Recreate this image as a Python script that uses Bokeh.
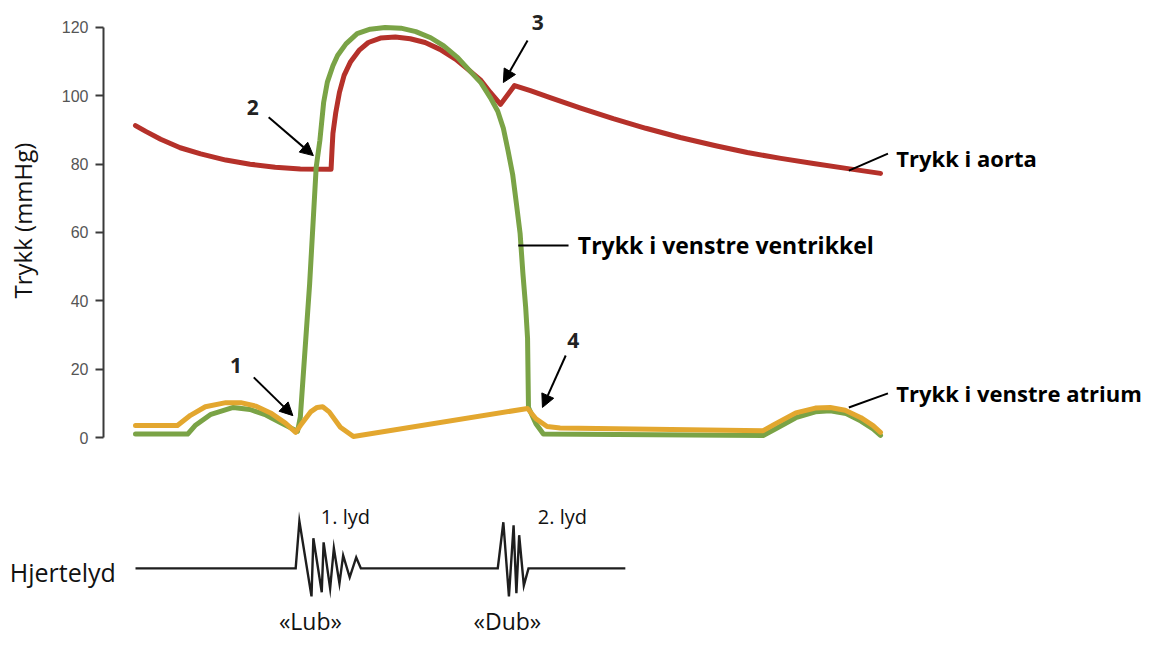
import math
from bokeh.plotting import figure
from bokeh.models import Range1d, Label, Arrow, NormalHead, FixedTicker
from bokeh.embed import file_html
from bokeh.resources import INLINE

# ---- data (time in s, pressure in mmHg) ----
aorta_t = [0.000, 0.011, 0.027, 0.048, 0.070, 0.097, 0.123, 0.150, 0.177, 0.210, 0.211,
           0.212, 0.215, 0.219, 0.224, 0.231, 0.240, 0.250, 0.263, 0.279, 0.295, 0.311,
           0.327, 0.344, 0.358, 0.371, 0.381, 0.392, 0.407, 0.424, 0.446, 0.478, 0.513,
           0.548, 0.585, 0.623, 0.657, 0.693, 0.728, 0.765, 0.800]
aorta_p = [91.3, 89.6, 87.3, 84.8, 83.0, 81.2, 80.0, 79.1, 78.6, 78.5, 84.0,
           89.0, 95.0, 101.0, 106.0, 110.0, 113.3, 115.6, 116.9, 117.2, 116.7, 115.6,
           113.6, 110.7, 107.5, 104.5, 101.0, 97.5, 103.0, 101.5, 99.4, 96.4, 93.3,
           90.5, 87.8, 85.4, 83.4, 81.7, 80.2, 78.7, 77.3]

vent_t = [0.000, 0.056, 0.064, 0.081, 0.105, 0.123, 0.140, 0.156, 0.174, 0.177, 0.187,
          0.194, 0.198, 0.202, 0.206, 0.212, 0.217, 0.226, 0.238, 0.252, 0.268, 0.285,
          0.301, 0.317, 0.331, 0.346, 0.360, 0.371, 0.381, 0.389, 0.395, 0.400, 0.405,
          0.409, 0.413, 0.416, 0.419, 0.421, 0.422, 0.430, 0.438, 0.674, 0.687, 0.709,
          0.730, 0.746, 0.763, 0.779, 0.792, 0.800]
vent_p = [1.0, 1.0, 3.5, 6.8, 8.8, 8.2, 6.6, 4.3, 1.8, 6.0, 45.0,
          79.0, 87.0, 98.0, 104.0, 108.8, 111.8, 115.2, 118.2, 119.5, 120.0, 119.8,
          118.8, 117.0, 114.6, 111.2, 107.0, 103.8, 99.5, 95.5, 90.5, 84.0, 77.0,
          68.5, 59.7, 48.0, 38.0, 29.0, 8.8, 4.0, 1.0, 0.6, 2.5, 5.8,
          7.5, 7.8, 7.0, 4.8, 2.5, 0.6]

atr_t = [0.000, 0.045, 0.059, 0.075, 0.097, 0.113, 0.129, 0.145, 0.161, 0.172, 0.177,
         0.188, 0.195, 0.201, 0.208, 0.220, 0.234, 0.421, 0.430, 0.442, 0.456, 0.674,
         0.687, 0.709, 0.730, 0.746, 0.762, 0.779, 0.792, 0.800]
atr_p = [3.5, 3.5, 6.5, 9.0, 10.2, 10.2, 9.2, 7.2, 4.2, 1.5, 3.5,
         7.5, 8.8, 9.0, 7.5, 3.0, 0.3, 8.5, 5.5, 3.2, 2.8, 2.0,
         4.0, 7.2, 8.6, 8.8, 8.0, 5.8, 3.5, 1.5]

# heart sound trace (relative amplitude, same scale as pressure axis)
sound_t = [0.000, 0.172, 0.176, 0.189, 0.191, 0.200, 0.202, 0.209, 0.213, 0.219, 0.223,
           0.230, 0.237, 0.242, 0.389, 0.395, 0.401, 0.406, 0.409, 0.412, 0.417, 0.422,
           0.526]
sound_a = [0.0, 0.0, 13.8, -8.2, 8.8, -7.0, 7.6, -5.9, 5.9, -4.4, 3.8,
           -2.6, 3.2, 0.0, 0.0, 13.5, -8.2, 12.6, -7.3, 9.7, -5.0, 0.0,
           0.0]
sound_base = -38.3

y_ticks = [0, 20, 40, 60, 80, 100, 120]
y_axis_at = -0.0344

# annotations: numbered arrows
num_labels = ["1", "2", "3", "4"]
num_x = [0.108, 0.126, 0.432, 0.470]
num_y = [21.1, 96.6, 121.5, 28.4]
arr_x0 = [0.127, 0.143, 0.421, 0.462]
arr_y0 = [17.6, 93.7, 116.2, 24.0]
arr_x1 = [0.169, 0.191, 0.395, 0.437]
arr_y1 = [6.4, 82.5, 103.9, 8.8]

# curve name labels with leader lines
name_labels = ["Trykk i aorta", "Trykk i venstre ventrikkel", "Trykk i venstre atrium"]
name_x = [0.817, 0.475, 0.817]
name_y = [81.9, 56.2, 12.9]
name_size = ["22px", "23px", "22px"]
lead_x0 = [0.766, 0.411, 0.766]
lead_y0 = [78.1, 56.2, 8.8]
lead_x1 = [0.808, 0.465, 0.808]
lead_y1 = [83.1, 56.2, 12.9]

# heart sound texts
snd_labels = ["Hjertelyd", "1. lyd", "2. lyd", "\u00abLub\u00bb", "\u00abDub\u00bb"]
snd_x = [-0.135, 0.199, 0.432, 0.154, 0.363]
snd_y = [-39.5, -23.1, -23.1, -53.8, -53.8]
snd_size = ["25px", "20px", "20px", "23px", "23px"]

y_title = "Trykk (mmHg)"
y_title_x = -0.121
y_title_y = 63.5

RED = "#b5312a"
GREEN = "#7aa346"
YELLOW = "#e3a72f"
FONT = "Open Sans"

p = figure(width=1144, height=636, output_backend="svg", toolbar_location=None,
           x_range=Range1d(-0.14497, 1.08349), y_range=Range1d(-58.24, 127.90),
           min_border_left=0, min_border_right=0, min_border_top=0, min_border_bottom=0,
           x_axis_location=None)
p.outline_line_color = None
p.xgrid.visible = False
p.ygrid.visible = False
p.background_fill_color = "white"

ax = p.yaxis[0]
ax.fixed_location = y_axis_at
ax.bounds = (0, 120)
ax.ticker = FixedTicker(ticks=y_ticks)
ax.axis_line_color = "#3a3a3a"
ax.axis_line_width = 2
ax.major_tick_line_color = "#3a3a3a"
ax.major_tick_line_width = 2
ax.major_tick_out = 8
ax.major_tick_in = 0
ax.minor_tick_line_color = None
ax.major_label_text_font = "Liberation Sans"
ax.major_label_text_font_size = "16px"
ax.major_label_text_color = "#555555"
ax.major_label_standoff = 7

# curves
p.line(aorta_t, aorta_p, line_color=RED, line_width=5, line_join="round", line_cap="round")
p.line(vent_t, vent_p, line_color=GREEN, line_width=5, line_join="round", line_cap="round")
p.line(atr_t, atr_p, line_color=YELLOW, line_width=5, line_join="round", line_cap="round")

# heart sound
p.line(sound_t, [sound_base + a for a in sound_a], line_color="#1e1e1e", line_width=2.4,
       line_join="miter")

# leader lines
p.segment(lead_x0, lead_y0, lead_x1, lead_y1, line_color="black", line_width=2)

# arrows
for i in range(len(num_labels)):
    p.add_layout(Arrow(end=NormalHead(size=13, fill_color="black", line_color="black"),
                       x_start=arr_x0[i], y_start=arr_y0[i], x_end=arr_x1[i], y_end=arr_y1[i],
                       line_color="black", line_width=2))
    p.add_layout(Label(x=num_x[i], y=num_y[i], text=num_labels[i], text_font=FONT,
                       text_font_style="bold", text_font_size="21px", text_color="#222222",
                       text_align="center", text_baseline="middle"))

for i in range(len(name_labels)):
    p.add_layout(Label(x=name_x[i], y=name_y[i], text=name_labels[i], text_font=FONT,
                       text_font_style="bold", text_font_size=name_size[i], text_color="black",
                       text_align="left", text_baseline="middle"))

for i in range(len(snd_labels)):
    p.add_layout(Label(x=snd_x[i], y=snd_y[i], text=snd_labels[i], text_font=FONT,
                       text_font_size=snd_size[i], text_color="#111111",
                       text_align="left", text_baseline="middle"))

p.add_layout(Label(x=y_title_x, y=y_title_y, text=y_title, text_font=FONT, text_font_size="24px",
                   text_color="#111111", angle=math.pi / 2, text_align="center",
                   text_baseline="middle"))

open("out.html", "w").write(file_html(p, INLINE))
